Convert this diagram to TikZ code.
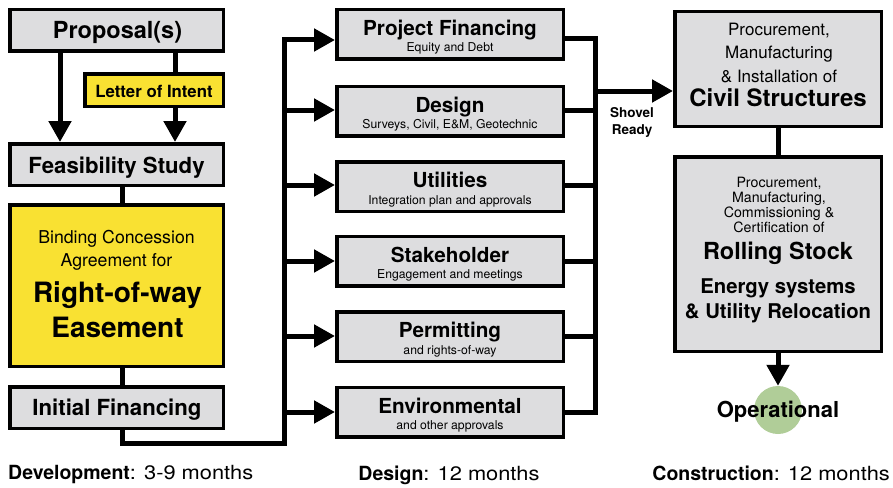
\documentclass[tikz,border=0pt]{standalone}
\usepackage{fontspec}
\setmainfont{TeX Gyre Heros}
\newfontfamily\widefont{TeX Gyre Heros}[FakeStretch=1.12]
\usetikzlibrary{arrows.meta}
\definecolor{boxgray}{RGB}{221,221,223}
\definecolor{boxyellow}{RGB}{249,225,50}
\definecolor{opgreen}{RGB}{176,205,152}
\newcommand{\fsz}[1]{\fontsize{#1}{#1}\selectfont}
\begin{document}
\begin{tikzpicture}[x=1pt,y=-1pt,
  box/.style={draw=black, line width=3.5pt, fill=boxgray, inner sep=0pt},
  ybox/.style={box, fill=boxyellow},
  lbox/.style={box, minimum width=213.5pt, minimum height=41.5pt},
  mbox/.style={box, minimum width=226.5pt, minimum height=49.5pt},
  rbox/.style={box, minimum width=206.5pt},
  conn/.style={line width=5pt},
  arr/.style={conn, -{Triangle[length=21pt,width=22pt]}},
  txt/.style={inner sep=0pt, anchor=base},
  ttl/.style={txt, font=\fsz{20.7}\bfseries},
  sub/.style={txt, font=\fsz{12.2}}]
\useasboundingbox (0,0) rectangle (893,487);

% left column boxes
\node[lbox] (prop) at (116.5,30.5) {};
\node[ybox, minimum width=138.5pt, minimum height=32.5pt] (loi) at (154,90) {};
\node[lbox] (feas) at (116.5,164.5) {};
\node[ybox, minimum width=213.5pt, minimum height=161.5pt] (bind) at (116.5,285.5) {};
\node[lbox] (initf) at (116.5,407.5) {};

% middle column boxes
\node[mbox] (pf) at (450,34.5) {};
\node[mbox] (des) at (450,111) {};
\node[mbox] (util) at (450,186.5) {};
\node[mbox] (stake) at (450,261) {};
\node[mbox] (perm) at (450,336.5) {};
\node[mbox] (env) at (450,412) {};

% right column boxes
\node[rbox, minimum height=114.5pt] (civ) at (778,69) {};
\node[rbox, minimum height=194.5pt] (roll) at (778,254) {};
\node[circle, fill=opgreen, minimum size=48pt, inner sep=0pt] (opc) at (778,410) {};

% helper coordinates
\coordinate (xl) at (60,0);
\coordinate (xr) at (175,0);
\coordinate (xm) at (122,0);
\coordinate (busLb) at (284,443);
\coordinate (busLt) at (284,40);
\coordinate (busRt) at (595,39);
\coordinate (busRb) at (595,412);
\coordinate (shov) at (595,91);

% left connectors
\draw[conn] (prop.south -| xr) -- (loi.north -| xr);
\draw[arr] (prop.south -| xl) -- (feas.north -| xl);
\draw[arr] (loi.south -| xr) -- (feas.north -| xr);
\draw[conn] (feas.south -| xm) -- (bind.north -| xm);
\draw[conn] (bind.south -| xm) -- (initf.north -| xm);
\draw[arr] (initf.south -| xm) |- (busLb) -- (busLt) -- (pf.west |- busLt);
\draw[arr] (busLb |- 0,110) -- (des.west |- 0,110);
\draw[arr] (busLb |- 0,185) -- (util.west |- 0,185);
\draw[arr] (busLb |- stake.west) -- (stake.west);
\draw[arr] (busLb |- 0,336) -- (perm.west |- 0,336);
\draw[arr] (busLb |- env.west) -- (env.west);

% right connectors
\draw[conn] (pf.east |- busRt) -- (busRt) -- (busRb) -- (env.east |- busRb);
\draw[conn] (des.east |- 0,110) -- (busRt |- 0,110);
\draw[conn] (util.east |- 0,185) -- (busRt |- 0,185);
\draw[conn] (stake.east) -- (busRt |- stake.east);
\draw[conn] (perm.east |- 0,336) -- (busRt |- 0,336);
\draw[arr] (shov) -- (civ.west |- shov);
\draw[conn] (civ.south) -- (roll.north);
\draw[arr] (roll.south) -- (opc.north);

% left texts
\node[txt, font=\fsz{23.5}\bfseries] (prop-t) at (117.5,39) {Proposal(s)};
\node[txt, font=\fsz{16.8}\bfseries] (loi-t) at (154,97) {Letter of Intent};
\node[txt, font=\fsz{22.2}\bfseries] (feas-t) at (116.5,173) {Feasibility Study};
\node[txt, font=\fsz{17.7}] (bind-t1) at (116.5,243) {Binding Concession};
\node[txt, font=\fsz{17.7}] (bind-t2) at (116.5,266) {Agreement for};
\node[txt, font=\fsz{28}\bfseries] (bind-t3) at (117.5,302) {Right-of-way};
\node[txt, font=\fsz{28}\bfseries] (bind-t4) at (117.5,337) {Easement};
\node[txt, font=\fsz{22.2}\bfseries] (initf-t) at (117,415) {Initial Financing};

% middle texts
\node[ttl] (pf-t) at (450,35.5) {Project Financing};
\node[sub] (pf-s) at (450,52) {Equity and Debt};
\node[ttl] (des-t) at (450,112) {Design};
\node[sub] (des-s) at (450,128.5) {Surveys, Civil, E\&M, Geotechnic};
\node[ttl] (util-t) at (450,187.5) {Utilities};
\node[sub] (util-s) at (450,204) {Integration plan and approvals};
\node[ttl] (stake-t) at (450,262) {Stakeholder};
\node[sub] (stake-s) at (450,278.5) {Engagement and meetings};
\node[ttl] (perm-t) at (450,337.5) {Permitting};
\node[sub] (perm-s) at (450,354) {and rights-of-way};
\node[ttl] (env-t) at (450,413) {Environmental};
\node[sub] (env-s) at (450,429.5) {and other approvals};

% shovel ready
\node[txt, font=\fsz{13.5}\bfseries] (shov-t1) at (632,117) {Shovel};
\node[txt, font=\fsz{13.5}\bfseries] (shov-t2) at (632,134) {Ready};

% right texts
\node[txt, font=\fsz{17}] (civ-t1) at (779,36) {Procurement,};
\node[txt, font=\fsz{17}] (civ-t2) at (779,59) {Manufacturing};
\node[txt, font=\fsz{17}] (civ-t3) at (779,82) {\& Installation of};
\node[txt, font=\fsz{24}\bfseries] (civ-t4) at (778,106) {Civil Structures};
\node[txt, font=\fsz{14.2}] (roll-t1) at (779,187) {Procurement,};
\node[txt, font=\fsz{14.2}] (roll-t2) at (779,202) {Manufacturing,};
\node[txt, font=\fsz{14.2}] (roll-t3) at (779,217) {Commissioning \&};
\node[txt, font=\fsz{14.2}] (roll-t4) at (779,232) {Certification of};
\node[txt, font=\fsz{23.5}\bfseries] (roll-t5) at (778,259) {Rolling Stock};
\node[txt, font=\fsz{20.3}\bfseries] (roll-t6) at (778,293) {Energy systems};
\node[txt, font=\fsz{20.3}\bfseries] (roll-t7) at (778,318) {\& Utility Relocation};
\node[txt, font=\fsz{22}\bfseries] (op-t) at (778,417) {Operational};

% phase labels
\node[txt, anchor=base west, font=\fsz{19.5}] (ph1) at (8,479) {\textbf{Development}{\widefont: 3-9 months}};
\node[txt, font=\fsz{19.5}] (ph2) at (449,480) {\textbf{Design}{\widefont: 12 months}};
\node[txt, anchor=base east, font=\fsz{19.5}] (ph3) at (890,480) {\textbf{Construction}{\widefont: 12 months}};
\end{tikzpicture}
\end{document}
